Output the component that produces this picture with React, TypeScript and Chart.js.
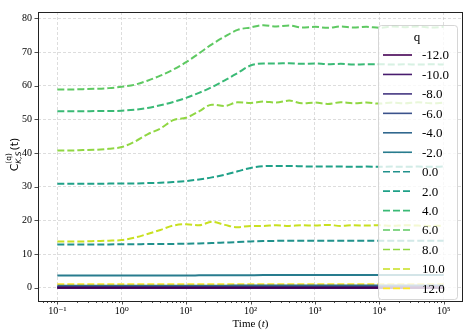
import React, { useEffect, useRef } from 'react';
import { Chart, registerables } from 'chart.js';
Chart.register(...registerables);

// time samples (log-spaced)
const TIMES = [
  0.1, 0.1585, 0.2512, 0.3981, 0.631, 1, 1.585, 2.512, 3.981, 6.31,
  10, 15.85, 25.12, 39.81, 63.1, 100, 158.5, 251.2, 398.1, 631,
  1000, 1585, 2512, 3981, 6310, 10000, 15849, 25119, 39811, 63096, 100000,
];

const Q_LABELS = ['-12.0', '-10.0', '-8.0', '-6.0', '-4.0', '-2.0', '0.0', '2.0', '4.0', '6.0', '8.0', '10.0', '12.0'];

const Q_M12 = [0, 0, 0, 0, 0, 0, 0, 0, 0, 0, 0, 0, 0, 0, 0, 0, 0, 0, 0, 0, 0, 0, 0, 0, 0, 0, 0, 0, 0, 0, 0];
const Q_M10 = [0.02, 0.02, 0.02, 0.02, 0.02, 0.02, 0.02, 0.02, 0.02, 0.02, 0.02, 0.02, 0.02, 0.02, 0.02, 0.02, 0.02, 0.02, 0.02, 0.02, 0.02, 0.02, 0.02, 0.02, 0.02, 0.02, 0.02, 0.02, 0.02, 0.02, 0.02];
const Q_M8 = [0.08, 0.08, 0.08, 0.08, 0.08, 0.08, 0.08, 0.08, 0.08, 0.08, 0.08, 0.08, 0.08, 0.08, 0.08, 0.08, 0.08, 0.08, 0.08, 0.08, 0.08, 0.08, 0.08, 0.08, 0.08, 0.08, 0.08, 0.08, 0.08, 0.08, 0.08];
const Q_M6 = [0.25, 0.25, 0.25, 0.25, 0.25, 0.25, 0.25, 0.25, 0.25, 0.25, 0.25, 0.25, 0.25, 0.25, 0.25, 0.25, 0.25, 0.25, 0.25, 0.25, 0.25, 0.25, 0.25, 0.25, 0.25, 0.25, 0.25, 0.25, 0.25, 0.25, 0.25];
const Q_M4 = [0.65, 0.65, 0.65, 0.65, 0.65, 0.65, 0.65, 0.65, 0.65, 0.65, 0.65, 0.65, 0.66, 0.66, 0.67, 0.68, 0.68, 0.68, 0.68, 0.68, 0.68, 0.68, 0.68, 0.68, 0.68, 0.68, 0.68, 0.68, 0.68, 0.68, 0.68];
const Q_M2 = [3.7, 3.7, 3.7, 3.7, 3.7, 3.7, 3.7, 3.7, 3.7, 3.7, 3.7, 3.71, 3.72, 3.73, 3.75, 3.77, 3.79, 3.8, 3.8, 3.8, 3.8, 3.8, 3.8, 3.8, 3.8, 3.8, 3.8, 3.8, 3.8, 3.8, 3.8];
const Q_0 = [12.9, 12.9, 12.9, 12.9, 12.9, 12.95, 12.95, 13.0, 13.0, 13.05, 13.1, 13.2, 13.3, 13.45, 13.6, 13.8, 13.9, 13.95, 14.0, 14.0, 14.0, 14.0, 14.0, 14.0, 14.0, 14.0, 14.0, 14.0, 14.0, 14.0, 14.0];
const Q_2 = [30.9, 30.9, 30.9, 30.9, 30.95, 31.0, 31.0, 31.1, 31.2, 31.4, 31.7, 32.2, 32.8, 33.6, 34.6, 35.6, 36.1, 36.2, 36.2, 36.1, 36.0, 36.0, 36.0, 35.95, 36.0, 35.95, 36.0, 35.95, 36.0, 35.95, 36.0];
const Q_4 = [52.4, 52.4, 52.4, 52.5, 52.5, 52.6, 52.9, 53.4, 54.2, 55.2, 56.4, 57.9, 59.6, 61.6, 63.8, 66.0, 66.6, 66.6, 66.7, 66.5, 66.6, 66.4, 66.5, 66.3, 66.4, 66.4, 66.3, 66.4, 66.3, 66.4, 66.3];
const Q_6 = [58.9, 58.9, 59.0, 59.1, 59.3, 59.7, 60.3, 61.5, 63.0, 64.8, 67.0, 69.6, 72.3, 74.6, 76.6, 77.3, 78.0, 77.6, 77.9, 77.3, 77.5, 77.2, 77.6, 77.3, 77.5, 77.2, 77.6, 77.4, 77.6, 77.3, 77.5];
const Q_8 = [40.8, 40.8, 40.9, 41.0, 41.3, 41.8, 43.4, 45.6, 47.3, 49.8, 50.5, 52.4, 54.4, 54.0, 55.1, 54.9, 55.3, 55.0, 55.6, 54.8, 55.0, 54.6, 55.1, 54.8, 55.0, 54.7, 55.0, 54.8, 55.1, 54.8, 55.0];
const Q_10 = [13.8, 13.8, 13.8, 13.9, 14.0, 14.2, 14.9, 16.0, 17.2, 18.5, 18.9, 18.6, 19.6, 18.7, 18.0, 18.4, 18.4, 18.6, 18.4, 18.6, 18.5, 18.7, 18.4, 18.6, 18.5, 18.6, 18.4, 18.6, 18.5, 18.4, 18.5];
const Q_12 = [1.1, 1.1, 1.1, 1.1, 1.1, 1.1, 1.1, 1.1, 1.1, 1.1, 1.1, 1.1, 1.1, 1.1, 1.1, 1.1, 1.1, 1.1, 1.1, 1.1, 1.1, 1.1, 1.1, 1.1, 1.1, 1.1, 1.1, 1.1, 1.1, 1.1, 1.1];

const SERIES = [Q_M12, Q_M10, Q_M8, Q_M6, Q_M4, Q_M2, Q_0, Q_2, Q_4, Q_6, Q_8, Q_10, Q_12];

const X_TICK_VALUES = [0.1, 1, 10, 100, 1000, 10000, 100000];
const X_TICK_LABELS = ['10⁻¹', '10⁰', '10¹', '10²', '10³', '10⁴', '10⁵'];
const Y_TICK_VALUES = [0, 10, 20, 30, 40, 50, 60, 70, 80];
const Y_TICK_LABELS = ['0', '10', '20', '30', '40', '50', '60', '70', '80'];

const COLORS = ['#440154', '#481c6e', '#453781', '#3b528b', '#31688e', '#287c8e', '#21918c', '#1fa188', '#3aba76', '#5ec962', '#90d743', '#c8e020', '#fde725'];

const SERIF = '"Liberation Serif", "DejaVu Serif", serif';
const SANS = '"DejaVu Sans", sans-serif';

const decorPlugin = {
  id: 'decor',
  afterDatasetsDraw(chart: any) {
    const { ctx, chartArea: a } = chart;
    const xs = chart.scales.x;
    const ys = chart.scales.y;
    ctx.save();
    ctx.strokeStyle = '#222';
    ctx.lineWidth = 1;
    ctx.strokeRect(Math.round(a.left) + 0.5, Math.round(a.top) + 0.5, Math.round(a.right - a.left) - 1, Math.round(a.bottom - a.top));
    ctx.lineWidth = 0.8;
    ctx.beginPath();
    xs.ticks.forEach((t: any) => {
      const px = Math.round(xs.getPixelForValue(t.value)) + 0.5;
      const major = X_TICK_VALUES.includes(t.value);
      const len = major ? 3.5 : 2;
      ctx.moveTo(px, a.bottom);
      ctx.lineTo(px, a.bottom + len);
    });
    ys.ticks.forEach((t: any) => {
      const py = Math.round(ys.getPixelForValue(t.value)) + 0.5;
      ctx.moveTo(a.left, py);
      ctx.lineTo(a.left - 3.5, py);
    });
    ctx.stroke();
    ctx.restore();
  },
  afterDraw(chart: any) {
    const { ctx, chartArea: a } = chart;
    ctx.save();
    // y label
    ctx.translate(14, (a.top + a.bottom) / 2 - 2);
    ctx.rotate(-Math.PI / 2);
    ctx.fillStyle = '#000';
    ctx.textBaseline = 'alphabetic';
    const big = '11px ' + SANS;
    const small = '7.5px ' + SANS;
    const smallIt = 'italic 7.5px ' + SANS;
    ctx.font = big;
    const wC = ctx.measureText('C').width;
    ctx.font = small;
    const wSup = ctx.measureText('(q)').width;
    ctx.font = smallIt;
    const wSub = ctx.measureText('K,S').width;
    ctx.font = big;
    const wT = ctx.measureText('(t)').width;
    const total = wC + Math.max(wSup, wSub) + 1 + wT;
    let x = -total / 2;
    const base = 3.5;
    ctx.font = big;
    ctx.fillText('C', x, base);
    x += wC;
    ctx.font = small;
    ctx.fillText('(q)', x, base - 6.5);
    ctx.font = smallIt;
    ctx.fillText('K,S', x, base + 3);
    x += Math.max(wSup, wSub) + 1;
    ctx.font = big;
    ctx.fillText('(t)', x, base);
    ctx.restore();

    // x label
    ctx.save();
    ctx.fillStyle = '#000';
    ctx.textBaseline = 'alphabetic';
    const f1 = '11px ' + SERIF;
    const f2 = 'italic 11px ' + SERIF;
    ctx.font = f1;
    const w1 = ctx.measureText('Time (').width;
    const w3 = ctx.measureText(')').width;
    ctx.font = f2;
    const w2 = ctx.measureText('t').width;
    let lx = (a.left + a.right) / 2 - (w1 + w2 + w3) / 2;
    const ly = 327;
    ctx.font = f1;
    ctx.fillText('Time (', lx, ly);
    lx += w1;
    ctx.font = f2;
    ctx.fillText('t', lx, ly);
    lx += w2;
    ctx.font = f1;
    ctx.fillText(')', lx, ly);
    ctx.restore();

    // legend
    ctx.save();
    const bx = a.right - 85;
    const by = a.top + 13;
    const bw = 79;
    const bh = 274;
    ctx.beginPath();
    if (ctx.roundRect) ctx.roundRect(bx + 0.5, by + 0.5, bw, bh, 3);
    else ctx.rect(bx + 0.5, by + 0.5, bw, bh);
    ctx.fillStyle = 'rgba(255,255,255,0.8)';
    ctx.fill();
    ctx.strokeStyle = 'rgba(204,204,204,0.8)';
    ctx.lineWidth = 1;
    ctx.stroke();
    ctx.fillStyle = '#000';
    ctx.font = '13px ' + SERIF;
    ctx.textAlign = 'center';
    ctx.textBaseline = 'middle';
    ctx.fillText('q', bx + 39, by + 13);
    ctx.textAlign = 'left';
    chart.data.datasets.forEach((ds: any, i: number) => {
      const ry = by + 30 + i * 19.45;
      ctx.beginPath();
      ctx.strokeStyle = ds.borderColor;
      ctx.lineWidth = 1.6;
      ctx.setLineDash(ds.borderDash || []);
      ctx.moveTo(bx + 5, ry);
      ctx.lineTo(bx + 34, ry);
      ctx.stroke();
      ctx.setLineDash([]);
      ctx.fillText(ds.label, bx + 44, ry + 1);
    });
    ctx.restore();
  },
};

export default function App() {
  const ref = useRef<HTMLCanvasElement>(null);
  useEffect(() => {
    document.body.style.margin = '0';
    const minorTicks: number[] = [];
    for (let d = -2; d <= 5; d++) {
      for (let m = 2; m <= 9; m++) {
        const v = m * Math.pow(10, d);
        if (v >= 0.0501 && v <= 199526) minorTicks.push(v);
      }
    }
    const datasets = SERIES.map((vals, i) => ({
      label: Q_LABELS[i],
      data: TIMES.map((t, j) => ({ x: t, y: vals[j] })),
      borderColor: COLORS[i],
      backgroundColor: COLORS[i],
      borderWidth: 2,
      borderDash: i >= 6 ? [7, 3] : undefined,
      pointRadius: 0,
      cubicInterpolationMode: 'monotone' as const,
      fill: false,
    }));
    const chart = new Chart(ref.current!, {
      type: 'line',
      data: { datasets },
      options: {
        animation: false,
        responsive: false,
        layout: { padding: { top: 6, right: 6, left: 0, bottom: 0 } },
        plugins: { legend: { display: false }, tooltip: { enabled: false } },
        scales: {
          x: {
            type: 'logarithmic',
            min: Math.pow(10, -1.3),
            max: Math.pow(10, 5.3),
            afterBuildTicks: (s: any) => {
              const vals = [...X_TICK_VALUES, ...minorTicks].sort((p, q) => p - q);
              s.ticks = vals.map((v) => ({ value: v, major: X_TICK_VALUES.includes(v) }));
            },
            afterFit: (s: any) => { s.height = 35; },
            ticks: {
              autoSkip: false,
              maxRotation: 0,
              padding: 4,
              color: '#000',
              font: { family: SERIF, size: 10 },
              callback: (v: any) => {
                const idx = X_TICK_VALUES.indexOf(Number(v));
                return idx >= 0 ? X_TICK_LABELS[idx] : '';
              },
            },
            grid: {
              drawTicks: false,
              color: (c: any) => (c.tick && X_TICK_VALUES.includes(c.tick.value) ? 'rgba(176,176,176,0.55)' : 'rgba(0,0,0,0)'),
              lineWidth: 0.8,
            },
            border: { display: false, dash: [3, 2] },
          },
          y: {
            type: 'linear',
            min: -3.9,
            max: 81.9,
            afterBuildTicks: (s: any) => {
              s.ticks = Y_TICK_VALUES.map((v) => ({ value: v }));
            },
            afterFit: (s: any) => { s.width = 38; },
            ticks: {
              padding: 6,
              color: '#000',
              font: { family: SERIF, size: 10 },
              callback: (v: any) => {
                const idx = Y_TICK_VALUES.indexOf(Number(v));
                return idx >= 0 ? Y_TICK_LABELS[idx] : '';
              },
            },
            grid: { drawTicks: false, color: 'rgba(176,176,176,0.55)', lineWidth: 0.8 },
            border: { display: false, dash: [3, 2] },
          },
        },
      },
      plugins: [decorPlugin],
    });
    return () => chart.destroy();
  }, []);
  return <canvas ref={ref} width={469} height={336} style={{ display: 'block', width: 469, height: 336 }} />;
}
